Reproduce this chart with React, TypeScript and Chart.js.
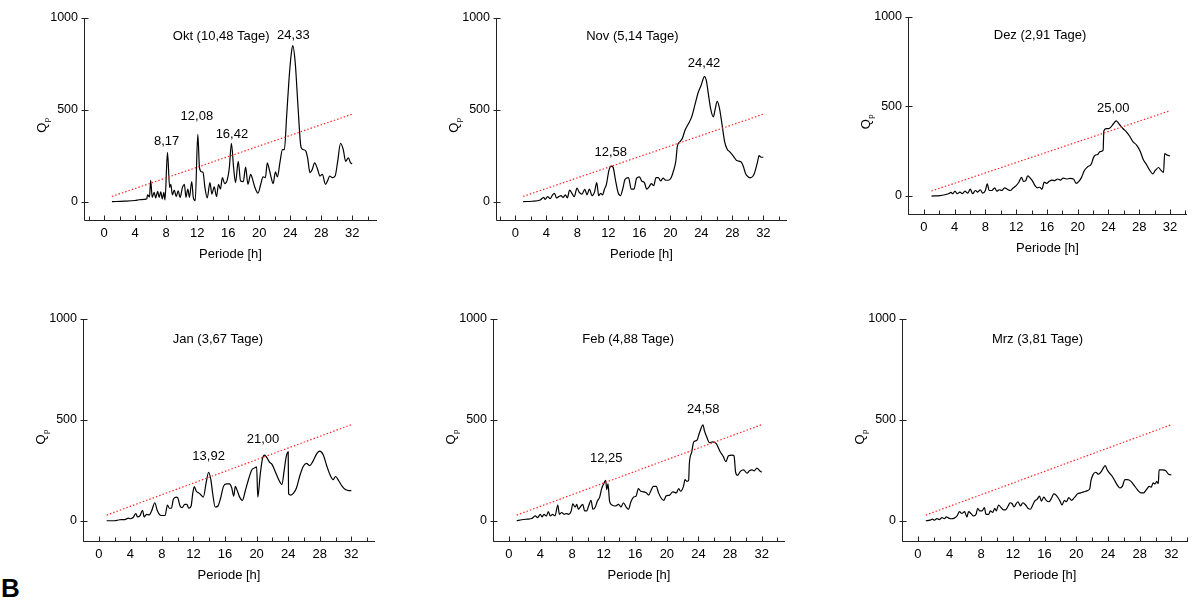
import React, { useEffect, useRef } from 'react';
import { Chart, registerables } from 'chart.js';

Chart.register(...registerables);

const FONT = '"Liberation Sans", Arial, Helvetica, sans-serif';

// ---- shared axis values ----
const xTickValues = [-2, 0, 2, 4, 6, 8, 10, 12, 14, 16, 18, 20, 22, 24, 26, 28, 30, 32, 34];
const xLabelValues = [0, 4, 8, 12, 16, 20, 24, 28, 32];
const yTickValues = [0, 500, 1000];
const yMin = -100;
const yMax = 1000;

// significance threshold (red dotted line)
const thresholdX = [1, 32];
const thresholdY = [28, 475];

// ---- periodogram series: [Periode h, Qp] ----
const oktSeries: [number, number][] = [
  [1.0, 0], [2.6, 2], [4.0, 6], [4.5, 10], [5.2, 12], [5.5, 15], [5.6, 37], [5.85, 25], [6.0, 116], [6.2, 23],
  [6.45, 50], [6.65, 20], [6.9, 55], [7.1, 23], [7.3, 53], [7.5, 14], [7.7, 50], [7.85, 9], [8.17, 267], [8.45, 77],
  [8.6, 94], [8.8, 37], [9.05, 62], [9.3, 27], [9.55, 59], [9.8, 23], [10.1, 77], [10.35, 94], [10.55, 23], [10.8, 68],
  [11.0, 23], [11.3, 109], [11.5, 23], [11.75, 5], [12.08, 365], [12.3, 184], [12.55, 162], [12.75, 160], [13.0, 77], [13.3, 20],
  [13.65, 103], [13.9, 41], [14.2, 80], [14.5, 27], [14.75, 94], [15.0, 68], [15.25, 130], [15.55, 98], [15.9, 121], [16.15, 184],
  [16.42, 317], [16.7, 184], [16.95, 103], [17.3, 219], [17.6, 112], [17.95, 109], [18.25, 187], [18.55, 94], [18.9, 148], [19.15, 121],
  [19.45, 77], [19.85, 46], [20.2, 94], [20.5, 134], [20.8, 130], [21.05, 210], [21.25, 184], [21.55, 130], [21.8, 98], [22.1, 162],
  [22.35, 134], [22.7, 219], [23.0, 282], [23.25, 282], [23.55, 469], [23.85, 665], [24.15, 807], [24.33, 847], [24.65, 754], [25.0, 522],
  [25.35, 308], [25.55, 285], [26.0, 276], [26.25, 237], [26.55, 157], [26.85, 175], [27.15, 210], [27.5, 180], [27.85, 139], [28.15, 148],
  [28.55, 94], [28.85, 116], [29.1, 139], [29.45, 130], [29.8, 139], [30.1, 210], [30.5, 317], [30.85, 282], [31.15, 219], [31.5, 237],
  [31.8, 210], [32.0, 205],
];

const novSeries: [number, number][] = [
  [1.0, 0], [2.15, 2], [3.2, 9], [3.65, 23], [3.85, 12], [4.15, 27], [4.5, 16], [4.8, 37], [5.05, 45], [5.3, 20],
  [5.6, 27], [5.9, 32], [6.15, 23], [6.45, 37], [6.7, 20], [7.0, 62], [7.3, 45], [7.6, 27], [7.95, 73], [8.25, 50],
  [8.6, 41], [8.95, 66], [9.25, 37], [9.55, 68], [9.9, 32], [10.2, 50], [10.5, 103], [10.75, 32], [11.0, 45], [11.25, 37],
  [11.5, 68], [11.75, 94], [12.05, 166], [12.35, 193], [12.6, 187], [12.9, 121], [13.25, 50], [13.55, 32], [13.85, 68], [14.15, 121],
  [14.6, 130], [14.95, 68], [15.3, 68], [15.65, 127], [16.0, 134], [16.3, 112], [16.65, 103], [16.95, 68], [17.25, 80], [17.55, 98],
  [17.85, 86], [18.15, 130], [18.45, 130], [18.75, 112], [19.05, 127], [19.4, 116], [19.75, 116], [20.1, 130], [20.4, 166], [20.7, 219],
  [20.9, 300], [21.25, 326], [21.55, 344], [21.9, 389], [22.35, 424], [22.75, 460], [23.2, 531], [23.6, 594], [23.95, 629], [24.4, 679],
  [24.65, 656], [24.9, 585], [25.2, 504], [25.55, 460], [25.75, 496], [26.05, 544], [26.35, 504], [26.65, 424], [27.0, 326], [27.3, 287],
  [27.7, 269], [28.15, 246], [28.55, 223], [29.1, 216], [29.4, 193], [29.7, 152], [30.05, 134], [30.4, 130], [30.75, 144], [31.0, 175],
  [31.25, 216], [31.45, 250], [31.7, 241], [32.0, 241],
];

const dezSeries: [number, number][] = [
  [1.0, 0], [2.1, 2], [2.75, 7], [3.2, 13], [3.55, 20], [3.75, 13], [4.05, 27], [4.35, 13], [4.7, 22], [5.0, 13],
  [5.35, 27], [5.7, 16], [6.05, 38], [6.35, 13], [6.7, 31], [7.0, 22], [7.35, 35], [7.65, 16], [8.0, 31], [8.25, 68],
  [8.5, 31], [8.85, 31], [9.2, 46], [9.5, 27], [9.8, 35], [10.15, 31], [10.5, 46], [10.85, 38], [11.25, 31], [11.55, 42],
  [12.0, 58], [12.35, 77], [12.7, 104], [12.95, 82], [13.25, 86], [13.5, 113], [13.75, 104], [14.1, 86], [14.45, 58], [14.75, 46],
  [15.05, 49], [15.35, 38], [15.65, 77], [15.95, 71], [16.3, 82], [16.65, 89], [17.0, 86], [17.4, 95], [17.75, 89], [18.1, 100],
  [18.55, 95], [19.0, 98], [19.45, 95], [19.8, 71], [20.15, 82], [20.5, 104], [20.85, 141], [21.3, 163], [21.75, 177], [22.05, 214],
  [22.3, 228], [22.6, 232], [22.9, 247], [23.3, 254], [23.4, 364], [23.7, 375], [24.15, 378], [24.6, 400], [25.0, 419], [25.45, 397],
  [25.9, 375], [26.35, 356], [26.75, 333], [27.2, 302], [27.65, 284], [28.1, 251], [28.5, 205], [28.95, 174], [29.4, 141], [29.75, 123],
  [30.05, 141], [30.5, 159], [30.8, 144], [31.15, 132], [31.3, 236], [31.65, 228], [32.0, 223],
];

const janSeries: [number, number][] = [
  [1.0, 0], [2.0, 0], [2.65, 5], [3.3, 6], [3.75, 13], [4.0, 10], [4.35, 16], [4.7, 36], [4.9, 19], [5.2, 24],
  [5.55, 52], [5.75, 19], [6.05, 32], [6.4, 29], [6.7, 49], [7.1, 89], [7.4, 52], [7.75, 29], [8.1, 26], [8.4, 26],
  [8.7, 78], [8.95, 62], [9.2, 62], [9.45, 106], [9.8, 117], [10.0, 114], [10.3, 73], [10.55, 65], [10.9, 81], [11.15, 81],
  [11.4, 62], [11.7, 73], [11.9, 133], [12.1, 169], [12.35, 146], [12.65, 138], [12.9, 130], [13.25, 117], [13.6, 187], [13.92, 240],
  [14.2, 203], [14.45, 130], [14.75, 68], [15.1, 73], [15.45, 114], [15.8, 170], [16.15, 182], [16.55, 182], [16.85, 162], [17.1, 122],
  [17.3, 170], [17.5, 154], [17.85, 117], [18.2, 101], [18.55, 146], [19.0, 208], [19.4, 252], [19.85, 263], [20.0, 266], [20.15, 117],
  [20.45, 227], [20.75, 308], [21.0, 325], [21.3, 312], [21.65, 289], [21.95, 279], [22.35, 244], [22.8, 203], [23.2, 179], [23.5, 252],
  [23.75, 317], [24.0, 341], [24.05, 133], [24.35, 127], [24.7, 138], [25.05, 162], [25.45, 219], [25.9, 268], [26.3, 284], [26.75, 273],
  [27.15, 295], [27.65, 333], [28.0, 344], [28.45, 325], [28.85, 276], [29.3, 227], [29.7, 203], [30.0, 219], [30.4, 198], [30.85, 170],
  [31.25, 154], [31.7, 149], [32.0, 149],
];

const febSeries: [number, number][] = [
  [1.0, 0], [1.65, 5], [2.3, 8], [2.9, 11], [3.35, 24], [3.65, 16], [4.0, 32], [4.2, 19], [4.45, 32], [4.75, 23],
  [5.0, 45], [5.25, 24], [5.55, 32], [5.85, 24], [6.2, 78], [6.4, 32], [6.7, 41], [7.0, 32], [7.25, 36], [7.55, 32],
  [7.9, 49], [8.1, 84], [8.4, 68], [8.6, 81], [8.8, 57], [9.05, 68], [9.35, 81], [9.6, 49], [9.85, 49], [10.1, 73],
  [10.4, 101], [10.65, 57], [10.95, 68], [11.2, 97], [11.5, 117], [11.75, 159], [12.0, 182], [12.25, 200], [12.4, 154], [12.55, 182],
  [12.75, 97], [13.05, 78], [13.45, 73], [13.9, 81], [14.2, 68], [14.5, 89], [14.85, 68], [15.15, 57], [15.45, 94], [15.8, 117],
  [16.1, 122], [16.4, 159], [16.7, 146], [17.05, 143], [17.4, 138], [17.7, 127], [17.95, 146], [18.3, 170], [18.65, 170], [18.95, 138],
  [19.25, 114], [19.6, 101], [19.9, 122], [20.35, 127], [20.75, 143], [21.2, 138], [21.5, 159], [21.75, 146], [22.1, 170], [22.3, 203],
  [22.55, 195], [22.75, 198], [22.85, 284], [23.15, 341], [23.4, 390], [23.8, 398], [24.15, 438], [24.58, 474], [24.75, 446], [25.05, 414],
  [25.4, 386], [25.8, 390], [26.25, 381], [26.75, 341], [27.15, 317], [27.45, 292], [27.8, 321], [28.25, 325], [28.5, 321], [28.7, 240],
  [28.95, 224], [29.3, 244], [29.7, 252], [30.15, 235], [30.45, 247], [30.75, 252], [31.05, 247], [31.4, 260], [31.75, 247], [32.0, 240],
];

const mrzSeries: [number, number][] = [
  [1.0, 0], [1.55, 3], [1.85, 8], [2.1, 3], [2.4, 11], [2.7, 6], [3.05, 16], [3.35, 10], [3.6, 19], [3.9, 13],
  [4.2, 10], [4.6, 13], [4.95, 24], [5.25, 45], [5.55, 36], [5.9, 45], [6.2, 19], [6.4, 45], [6.7, 36], [7.05, 24],
  [7.35, 32], [7.55, 62], [7.8, 49], [8.1, 49], [8.4, 65], [8.6, 32], [8.95, 32], [9.15, 49], [9.45, 41], [9.7, 62],
  [9.9, 49], [10.2, 78], [10.5, 65], [10.8, 54], [11.05, 54], [11.4, 73], [11.65, 89], [11.9, 84], [12.15, 68], [12.4, 84],
  [12.65, 94], [12.95, 73], [13.25, 89], [13.6, 78], [13.9, 62], [14.2, 57], [14.5, 78], [14.75, 97], [15.05, 106], [15.35, 122],
  [15.6, 97], [15.9, 117], [16.2, 101], [16.55, 94], [16.9, 114], [17.15, 133], [17.45, 127], [17.7, 114], [17.95, 97], [18.2, 78],
  [18.5, 101], [18.75, 94], [19.05, 114], [19.4, 101], [19.75, 114], [20.15, 133], [20.55, 138], [20.95, 143], [21.4, 149], [21.7, 159],
  [21.85, 198], [22.1, 227], [22.45, 240], [22.8, 230], [23.1, 240], [23.4, 260], [23.65, 273], [23.9, 252], [24.2, 235], [24.55, 219],
  [24.9, 195], [25.2, 175], [25.5, 162], [25.8, 170], [26.15, 203], [26.45, 203], [26.9, 195], [27.3, 175], [27.7, 154], [28.15, 138],
  [28.5, 138], [28.85, 154], [29.2, 170], [29.45, 166], [29.7, 187], [29.95, 182], [30.15, 195], [30.35, 183], [30.45, 252], [30.9, 252],
  [31.3, 247], [31.65, 230], [32.0, 227],
];

// ---- titles and peak annotations ----
const panelTitles = ['Okt (10,48 Tage)', 'Nov (5,14 Tage)', 'Dez (2,91 Tage)', 'Jan (3,67 Tage)', 'Feb (4,88 Tage)', 'Mrz (3,81 Tage)'];
const titleX = 15.1;
const titleY = 895;

const oktPeakLabels = ['8,17', '12,08', '16,42', '24,33'];
const oktPeakX = [8.05, 11.96, 16.48, 24.41];
const oktPeakY = [326, 465, 367, 902];
const novPeakLabels = ['12,58', '24,42'];
const novPeakX = [12.3, 24.35];
const novPeakY = [269, 749];
const dezPeakLabels = ['25,00'];
const dezPeakX = [24.62];
const dezPeakY = [488];
const janPeakLabels = ['13,92', '21,00'];
const janPeakX = [13.92, 20.81];
const janPeakY = [317, 403];
const febPeakLabels = ['12,25', '24,58'];
const febPeakX = [12.32, 24.6];
const febPeakY = [308, 552];
const mrzPeakLabels: string[] = [];
const mrzPeakX: number[] = [];
const mrzPeakY: number[] = [];

// ---- layout (page pixels of each plot box) ----
type Area = { left: number; top: number; right: number; bottom: number };
const panelAreas: Area[] = [
  { left: 84, top: 14, right: 377, bottom: 220 },
  { left: 496, top: 14, right: 787, bottom: 220 },
  { left: 908, top: 13, right: 1187, bottom: 214 },
  { left: 83, top: 315, right: 375, bottom: 541 },
  { left: 493, top: 315, right: 785, bottom: 541 },
  { left: 902, top: 315, right: 1188, bottom: 541 },
];
const panelXRange: [number, number][] = [
  [-2.6, 35.2],
  [-2.5, 35.05],
  [-2.05, 34.2],
  [-2.0, 35.0],
  [-2.0, 34.95],
  [-2.0, 34.1],
];

const Y_AXIS_W = 60;
const X_AXIS_H = 45;
const PAD_T = 10;
const PAD_R = 10;

type PanelProps = {
  series: [number, number][];
  title: string;
  peakLabels: string[];
  peakX: number[];
  peakY: number[];
  area: Area;
  xRange: [number, number];
};

function Panel({ series, title, peakLabels, peakX, peakY, area, xRange }: PanelProps) {
  const ref = useRef<HTMLCanvasElement | null>(null);
  const width = area.right - area.left + Y_AXIS_W + PAD_R;
  const height = area.bottom - area.top + PAD_T + X_AXIS_H;

  useEffect(() => {
    if (!ref.current) return;
    const decor = {
      id: 'decor',
      afterDraw(chart: any) {
        const { ctx, chartArea: a } = chart;
        const xs = chart.scales.x;
        const ys = chart.scales.y;
        ctx.save();
        // axes + inward ticks
        ctx.strokeStyle = '#222';
        ctx.lineWidth = 1;
        const bx = Math.round(a.left) + 0.5;
        const by = Math.round(a.bottom) + 0.5;
        ctx.beginPath();
        ctx.moveTo(bx, Math.round(ys.getPixelForValue(yMax)));
        ctx.lineTo(bx, by);
        ctx.lineTo(Math.round(a.right), by);
        for (const v of xTickValues) {
          if (v < xs.min || v > xs.max) continue;
          const px = Math.round(xs.getPixelForValue(v)) + 0.5;
          const len = v % 4 === 0 ? 5 : 4;
          ctx.moveTo(px, by);
          ctx.lineTo(px, by - len);
        }
        for (const v of yTickValues) {
          const py = Math.round(ys.getPixelForValue(v)) + 0.5;
          ctx.moveTo(bx - 3, py);
          ctx.lineTo(bx + 4, py);
        }
        ctx.stroke();

        ctx.fillStyle = '#000';
        ctx.textAlign = 'center';
        ctx.textBaseline = 'middle';
        ctx.font = `13px ${FONT}`;
        ctx.fillText(title, xs.getPixelForValue(titleX), ys.getPixelForValue(titleY));
        for (let i = 0; i < peakLabels.length; i++) {
          ctx.fillText(peakLabels[i], xs.getPixelForValue(peakX[i]), ys.getPixelForValue(peakY[i]));
        }

        // x-axis title
        ctx.fillText('Periode [h]', (a.left + a.right) / 2, a.bottom + 34);

        // y-axis title Q with subscript p
        const cx = a.left - 43;
        const cy = a.top + 0.535 * (a.bottom - a.top);
        ctx.translate(cx, cy);
        ctx.rotate(-Math.PI / 2);
        ctx.textAlign = 'left';
        ctx.textBaseline = 'alphabetic';
        ctx.font = `13px ${FONT}`;
        ctx.fillText('Q', -7, 4.5);
        ctx.font = `8px ${FONT}`;
        ctx.fillText('p', 3.5, 7.5);
        ctx.restore();
      },
    };

    const chart = new Chart(ref.current, {
      type: 'line',
      data: {
        datasets: [
          {
            data: thresholdX.map((x, i) => ({ x, y: thresholdY[i] })),
            borderColor: 'rgb(255, 40, 40)',
            borderWidth: 1.2,
            borderDash: [1.5, 2],
            pointRadius: 0,
            fill: false,
          },
          {
            data: series.map(([x, y]) => ({ x, y })),
            borderColor: '#000',
            borderWidth: 1.2,
            pointRadius: 0,
            cubicInterpolationMode: 'monotone',
            fill: false,
          },
        ],
      },
      options: {
        responsive: false,
        animation: false,
        devicePixelRatio: 1,
        layout: { padding: { top: PAD_T, right: PAD_R, left: 0, bottom: 0 } },
        plugins: { legend: { display: false }, tooltip: { enabled: false } },
        scales: {
          x: {
            type: 'linear',
            min: xRange[0],
            max: xRange[1],
            afterBuildTicks: (s: any) => {
              s.ticks = xTickValues.filter((v) => v >= xRange[0] && v <= xRange[1]).map((value) => ({ value }));
            },
            afterFit: (s: any) => {
              s.height = X_AXIS_H;
            },
            grid: { display: false, drawTicks: false },
            border: { display: false },
            ticks: {
              autoSkip: false,
              maxRotation: 0,
              padding: 6,
              color: '#000',
              font: { family: FONT, size: 13 },
              callback: (v: any) => (xLabelValues.includes(Number(v)) ? String(v) : ''),
            },
          },
          y: {
            type: 'linear',
            min: yMin,
            max: yMax,
            afterBuildTicks: (s: any) => {
              s.ticks = yTickValues.map((value) => ({ value }));
            },
            afterFit: (s: any) => {
              s.width = Y_AXIS_W;
            },
            grid: { display: false, drawTicks: false },
            border: { display: false },
            ticks: {
              padding: 6,
              color: '#000',
              font: { family: FONT, size: 12.5 },
              callback: (v: any) => String(v),
            },
          },
        },
      },
      plugins: [decor],
    } as any);
    return () => chart.destroy();
  }, []);

  return (
    <canvas
      ref={ref}
      width={width}
      height={height}
      style={{
        position: 'absolute',
        left: area.left - Y_AXIS_W,
        top: area.top - PAD_T,
        width,
        height,
      }}
    />
  );
}

const panelSeries = [oktSeries, novSeries, dezSeries, janSeries, febSeries, mrzSeries];
const panelPeakLabels = [oktPeakLabels, novPeakLabels, dezPeakLabels, janPeakLabels, febPeakLabels, mrzPeakLabels];
const panelPeakX = [oktPeakX, novPeakX, dezPeakX, janPeakX, febPeakX, mrzPeakX];
const panelPeakY = [oktPeakY, novPeakY, dezPeakY, janPeakY, febPeakY, mrzPeakY];

export default function App() {
  return (
    <div
      style={{
        position: 'absolute',
        left: 0,
        top: 0,
        width: 1200,
        height: 600,
        background: '#fff',
        overflow: 'hidden',
      }}
    >
      {panelSeries.map((s, i) => (
        <Panel
          key={i}
          series={s}
          title={panelTitles[i]}
          peakLabels={panelPeakLabels[i]}
          peakX={panelPeakX[i]}
          peakY={panelPeakY[i]}
          area={panelAreas[i]}
          xRange={panelXRange[i]}
        />
      ))}
      <div
        style={{
          position: 'absolute',
          left: 1,
          top: 573,
          fontFamily: FONT,
          fontWeight: 'bold',
          fontSize: 26,
          lineHeight: '30px',
          color: '#000',
        }}
      >
        B
      </div>
    </div>
  );
}
